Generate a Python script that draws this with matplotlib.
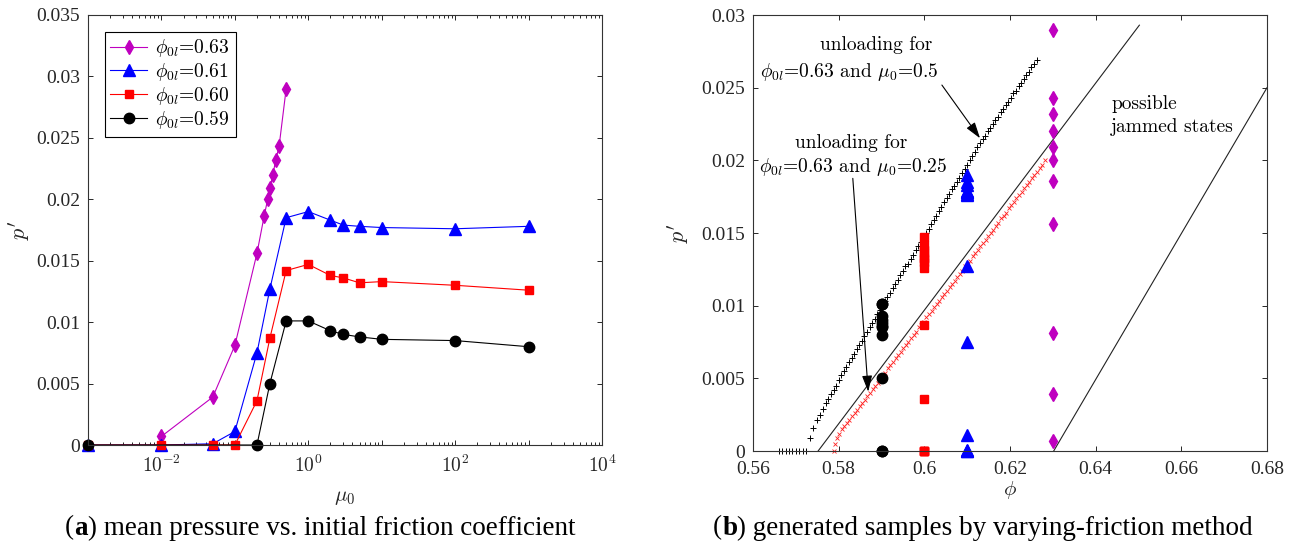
import matplotlib
matplotlib.use('Agg')
import matplotlib.pyplot as plt
from matplotlib.ticker import LogLocator, NullFormatter
from matplotlib.offsetbox import TextArea, HPacker, AnnotationBbox

plt.rcParams['mathtext.fontset'] = 'cm'
plt.rcParams['font.family'] = 'Liberation Serif'

# ---- panel (a): p' vs mu0 for four initial packing fractions ----
phi0l = [0.63, 0.61, 0.60, 0.59]
mu_063 = [0.01, 0.05, 0.1, 0.2, 0.25, 0.28, 0.3, 0.33, 0.36, 0.4, 0.5]
p_063 = [0.0007, 0.0039, 0.0081, 0.0156, 0.0186, 0.0200, 0.0209, 0.0220, 0.0232, 0.0243, 0.0290]
mu_061 = [0.001, 0.01, 0.05, 0.1, 0.2, 0.3, 0.5, 1, 2, 3, 5, 10, 100, 1000]
p_061 = [0, 0, 0.0001, 0.0011, 0.0075, 0.0127, 0.0185, 0.0190, 0.0183, 0.0179, 0.0178, 0.0177, 0.0176, 0.0178]
mu_060 = [0.001, 0.01, 0.05, 0.1, 0.2, 0.3, 0.5, 1, 2, 3, 5, 10, 100, 1000]
p_060 = [0, 0, 0, 0, 0.0036, 0.0087, 0.0142, 0.0147, 0.0138, 0.0136, 0.0132, 0.0133, 0.0130, 0.0126]
mu_059 = [0.001, 0.2, 0.3, 0.5, 1, 2, 3, 5, 10, 100, 1000]
p_059 = [0, 0, 0.0050, 0.0101, 0.0101, 0.0093, 0.0090, 0.0088, 0.0086, 0.0085, 0.0080]

# ---- panel (b): unloading curves ----
plus_phi = [0.5660, 0.5668, 0.5676, 0.5684, 0.5692, 0.5700, 0.5708, 0.5716, 0.5724,
            0.5733, 0.5741, 0.5749, 0.5756, 0.5763, 0.5770,
            0.5776, 0.5782, 0.5788, 0.5794, 0.5800, 0.5806, 0.5812, 0.5818, 0.5824, 0.5830,
            0.5836, 0.5842, 0.5848, 0.5854, 0.5860,
            0.5866, 0.5872, 0.5878, 0.5884, 0.5890, 0.5896, 0.5902, 0.5908, 0.5914, 0.5920,
            0.5926, 0.5932, 0.5938, 0.5944, 0.5950, 0.5956, 0.5962, 0.5968, 0.5974, 0.5980,
            0.5986, 0.5992,
            0.5998, 0.6004, 0.6010, 0.6016, 0.6022, 0.6028, 0.6034, 0.6040, 0.6046, 0.6052,
            0.6058, 0.6064, 0.6070, 0.6076, 0.6082, 0.6088, 0.6094, 0.6100, 0.6106, 0.6112,
            0.6118, 0.6124, 0.6130,
            0.6136, 0.6142, 0.6148, 0.6154, 0.6160, 0.6166, 0.6172, 0.6178, 0.6184, 0.6190,
            0.6196, 0.6202, 0.6208, 0.6214, 0.6220, 0.6226, 0.6232, 0.6238, 0.6244, 0.6250,
            0.6256, 0.6262]
plus_p = [0, 0, 0, 0, 0, 0, 0, 0, 0,
          0.0009, 0.0016, 0.0021, 0.0025, 0.0029, 0.0033,
          0.0036, 0.0039, 0.0042, 0.0045, 0.0049, 0.0052, 0.0055, 0.0058, 0.0061, 0.0064,
          0.0067, 0.0070, 0.0073, 0.0076, 0.0079,
          0.0082, 0.0085, 0.0088, 0.0091, 0.0094, 0.0097, 0.0100, 0.0103, 0.0106, 0.0109,
          0.0112, 0.0115, 0.0118, 0.0121, 0.0124, 0.0127, 0.0129, 0.0132, 0.0135, 0.0138,
          0.0141, 0.0144,
          0.0147, 0.0150, 0.0153, 0.0156, 0.0159, 0.0162, 0.0165, 0.0168, 0.0171, 0.0174,
          0.0177, 0.0180, 0.0182, 0.0185, 0.0188, 0.0191, 0.0194, 0.0197, 0.0200, 0.0203,
          0.0206, 0.0209, 0.0212,
          0.0215, 0.0217, 0.0220, 0.0222, 0.0225, 0.0228, 0.0230, 0.0233, 0.0235, 0.0238,
          0.0240, 0.0243, 0.0246, 0.0248, 0.0251, 0.0253, 0.0256, 0.0259, 0.0261, 0.0264,
          0.0266, 0.0269]

cross_phi = [0.5789, 0.5791, 0.5795, 0.5801, 0.5807, 0.5813, 0.5819, 0.5825,
             0.5831, 0.5837, 0.5843, 0.5849, 0.5855, 0.5861, 0.5867, 0.5873, 0.5879, 0.5885,
             0.5891, 0.5897, 0.5903, 0.5909, 0.5915, 0.5921, 0.5927, 0.5933, 0.5939, 0.5945,
             0.5951, 0.5957, 0.5963, 0.5969, 0.5975, 0.5981, 0.5987, 0.5993, 0.5999, 0.6005,
             0.6011, 0.6017, 0.6023, 0.6029, 0.6035, 0.6041, 0.6047, 0.6053, 0.6059, 0.6065,
             0.6071, 0.6077, 0.6083, 0.6089, 0.6095, 0.6101, 0.6107, 0.6113, 0.6119, 0.6125,
             0.6131, 0.6137, 0.6143, 0.6149, 0.6155, 0.6161, 0.6167, 0.6173, 0.6179, 0.6185,
             0.6191, 0.6197, 0.6203, 0.6209, 0.6215, 0.6221, 0.6227, 0.6233, 0.6239, 0.6245,
             0.6251, 0.6257, 0.6263, 0.6269, 0.6275, 0.6281]
cross_p = [0.0000, 0.0005, 0.0009, 0.0012, 0.0015, 0.0017, 0.0019, 0.0021,
           0.0024, 0.0026, 0.0028, 0.0031, 0.0033, 0.0035, 0.0038, 0.0040, 0.0043, 0.0045,
           0.0047, 0.0050, 0.0052, 0.0054, 0.0057, 0.0059, 0.0061, 0.0064, 0.0066, 0.0068,
           0.0071, 0.0073, 0.0075, 0.0078, 0.0080, 0.0082, 0.0085, 0.0087, 0.0089, 0.0092,
           0.0094, 0.0096, 0.0099, 0.0101, 0.0103, 0.0106, 0.0108, 0.0110, 0.0113, 0.0115,
           0.0117, 0.0120, 0.0122, 0.0124, 0.0127, 0.0129, 0.0131, 0.0134, 0.0136, 0.0138,
           0.0141, 0.0143, 0.0145, 0.0148, 0.0150, 0.0152, 0.0155, 0.0157, 0.0160, 0.0162,
           0.0164, 0.0167, 0.0169, 0.0171, 0.0174, 0.0176, 0.0178, 0.0181, 0.0183, 0.0185,
           0.0188, 0.0190, 0.0192, 0.0195, 0.0197, 0.0200]

# bounding lines of the jammed-state region
jam_lo_phi = [0.5752, 0.6502]
jam_lo_p = [0.0, 0.0293]
jam_hi_phi = [0.6302, 0.6800]
jam_hi_p = [0.0, 0.0250]

# tick labels
a_xticks = [1e-3, 1e-2, 1e-1, 1e0, 1e1, 1e2, 1e3, 1e4]
a_xlabels = ['', r'$10^{-2}$', '', r'$10^{0}$', '', r'$10^{2}$', '', r'$10^{4}$']
a_yticks = [0, 0.005, 0.01, 0.015, 0.02, 0.025, 0.03, 0.035]
a_ylabels = ['0', '0.005', '0.01', '0.015', '0.02', '0.025', '0.03', '0.035']
b_xticks = [0.56, 0.58, 0.60, 0.62, 0.64, 0.66, 0.68]
b_xlabels = ['0.56', '0.58', '0.6', '0.62', '0.64', '0.66', '0.68']
b_yticks = [0, 0.005, 0.01, 0.015, 0.02, 0.025, 0.03]
b_ylabels = ['0', '0.005', '0.01', '0.015', '0.02', '0.025', '0.03']

mus = [mu_063, mu_061, mu_060, mu_059]
ps = [p_063, p_061, p_060, p_059]
colors = ['#bf00bf', '#0000ff', '#ff0000', '#000000']
markers = ['d', '^', 's', 'o']
msizes = [7.5, 8.5, 6, 7.5]

tick_col = '#262626'
cm_font = {'family': 'cmr10', 'size': 14}

fig = plt.figure(figsize=(12.95, 5.47), dpi=100)
ax1 = fig.add_axes([0.06795, 0.18647, 0.39691, 0.78611])
ax2 = fig.add_axes([0.58147, 0.17550, 0.39691, 0.79707])

# panel (a)
for mu, p, c, m, ms, ph in zip(mus, ps, colors, markers, msizes, phi0l):
    ax1.plot(mu, p, color=c, lw=0.8, marker=m, ms=ms, mfc=c, mec=c,
             clip_on=False, label=r'$\phi_{0l}$=%.2f' % ph)
ax1.set_xscale('log')
ax1.set_xlim(1e-3, 1e4)
ax1.set_ylim(0, 0.035)
ax1.set_xticks(a_xticks)
ax1.set_xticklabels(a_xlabels)
ax1.xaxis.set_minor_locator(LogLocator(base=10, subs=range(2, 10), numticks=20))
ax1.xaxis.set_minor_formatter(NullFormatter())
ax1.set_yticks(a_yticks)
ax1.set_yticklabels(a_ylabels)
ax1.set_xlabel(r'$\mu_0$', fontsize=15, color=tick_col, labelpad=9)
ax1.set_ylabel(r"$p'$", fontsize=16, color=tick_col, labelpad=3)

leg = ax1.legend(loc='upper left', prop=cm_font, frameon=True, fancybox=False,
                 edgecolor='black', framealpha=1, borderaxespad=0.85,
                 handlelength=1.9, handletextpad=0.4, labelspacing=0.1, borderpad=0.3)
leg.get_frame().set_linewidth(0.8)

# panel (b)
ax2.plot(jam_lo_phi, jam_lo_p, color='#222222', lw=0.8)
ax2.plot(jam_hi_phi, jam_hi_p, color='#222222', lw=0.8)
ax2.plot(cross_phi, cross_p, ls='none', marker='x', ms=3, mew=0.6, color='#ff2020', clip_on=False)
ax2.plot(plus_phi, plus_p, ls='none', marker='+', ms=5, mew=0.7, color='black', clip_on=False)
for ph, p, c, m, ms in zip(phi0l, ps, colors, markers, msizes):
    ax2.plot([ph] * len(p), p, ls='none', marker=m, ms=ms, mfc=c, mec=c, clip_on=False)
ax2.set_xlim(0.56, 0.68)
ax2.set_ylim(0, 0.03)
ax2.set_xticks(b_xticks)
ax2.set_xticklabels(b_xlabels)
ax2.set_yticks(b_yticks)
ax2.set_yticklabels(b_ylabels)
ax2.set_xlabel(r'$\phi$', fontsize=15, color=tick_col, labelpad=1)
ax2.set_ylabel(r"$p'$", fontsize=16, color=tick_col, labelpad=8)

arrow_kw = dict(arrowstyle='-|>,head_length=0.7,head_width=0.22', color='black',
                lw=0.8, mutation_scale=14, shrinkA=0, shrinkB=0)
ax2.text(0.5887, 0.02794, 'unloading for', fontdict=cm_font, ha='center', va='center')
ax2.text(0.5824, 0.0261, r'$\phi_{0l}$=0.63 and $\mu_0$=0.5', fontdict=cm_font,
         ha='center', va='center')
ax2.annotate('', xy=(0.6130, 0.02152), xytext=(0.6041, 0.02518), arrowprops=arrow_kw)
ax2.text(0.5829, 0.02119, 'unloading for', fontdict=cm_font, ha='center', va='center')
ax2.text(0.5834, 0.01954, r'$\phi_{0l}$=0.63 and $\mu_0$=0.25', fontdict=cm_font,
         ha='center', va='center')
ax2.annotate('', xy=(0.5869, 0.00408), xytext=(0.5833, 0.01876), arrowprops=arrow_kw)
ax2.text(0.6436, 0.0239, 'possible', fontdict=cm_font, ha='left', va='center')
ax2.text(0.6436, 0.0223, 'jammed states', fontdict=cm_font, ha='left', va='center')

for ax in (ax1, ax2):
    ax.tick_params(which='both', direction='in', top=True, right=True,
                   colors=tick_col, labelsize=14, width=0.7)
    ax.tick_params(which='major', length=3.6)
    ax.tick_params(which='minor', length=2)
    ax.tick_params(axis='x', pad=7)
    ax.tick_params(axis='y', pad=5.5)
    for s in ax.spines.values():
        s.set_color('#333333')
        s.set_linewidth(0.8)


def caption(letter, rest, xfrac):
    props = dict(family='Liberation Serif', size=19.5, color='black')
    parts = [TextArea('(', textprops=props),
             TextArea(letter, textprops=dict(props, weight='bold')),
             TextArea(') ' + rest, textprops=props)]
    box = HPacker(children=parts, align='baseline', pad=0, sep=0)
    ab = AnnotationBbox(box, (xfrac, 1 - 528 / 547), xycoords='figure fraction',
                        box_alignment=(0.5, 0.5), frameon=False, pad=0)
    fig.add_artist(ab)


caption('a', 'mean pressure vs. initial friction coefficient', 320 / 1295)
caption('b', 'generated samples by varying-friction method', 983 / 1295)

fig.savefig('out.png', dpi=100)
